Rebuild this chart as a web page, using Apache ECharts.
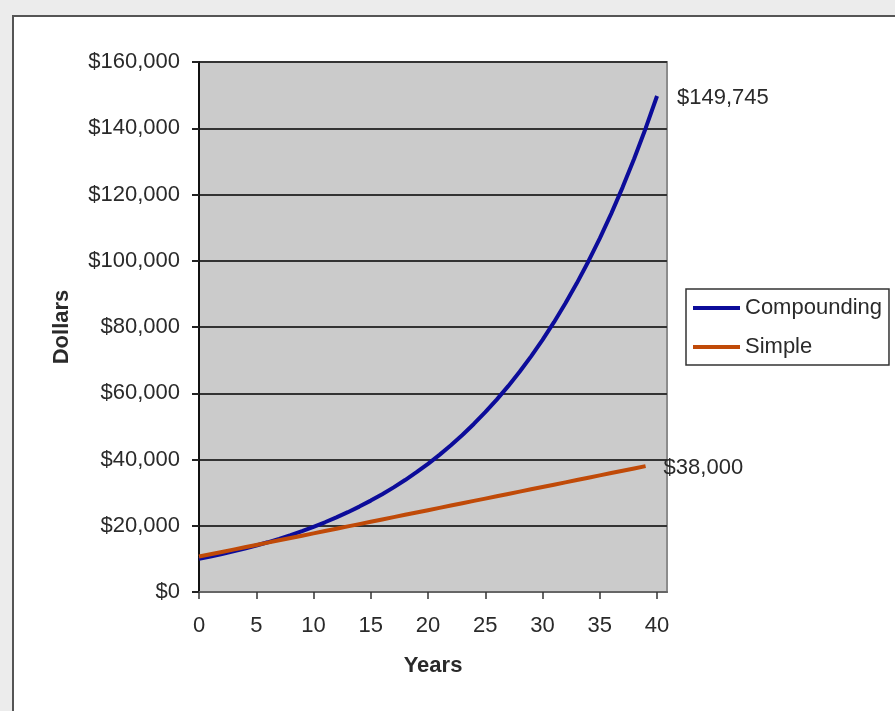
<!DOCTYPE html>
<html>
<head>
<meta charset="utf-8">
<script src="https://cdn.jsdelivr.net/npm/echarts@6/dist/echarts.min.js"></script>
<style>
  html, body { margin: 0; padding: 0; background: #ececec; width: 895px; height: 711px; overflow: hidden; }
  #frame { position: absolute; left: 12px; top: 15px; right: 0; bottom: 0; background: #ffffff;
           border-left: 2px solid #555555; border-top: 2px solid #555555; }
  #chart { position: absolute; left: 0; top: 0; width: 895px; height: 711px; }
</style>
</head>
<body>
<div id="frame"></div>
<div id="chart"></div>
<script>
// Years on the horizontal axis
const years = [0, 1, 2, 3, 4, 5, 6, 7, 8, 9, 10, 11, 12, 13, 14, 15, 16, 17, 18, 19, 20,
               21, 22, 23, 24, 25, 26, 27, 28, 29, 30, 31, 32, 33, 34, 35, 36, 37, 38, 39, 40];

// Balance with interest compounding each year
const compounding = [10000, 10700, 11449, 12250, 13108, 14026, 15007, 16058, 17182, 18385,
                     19672, 21049, 22522, 24098, 25785, 27590, 29522, 31588, 33799, 36165,
                     38697, 41406, 44304, 47405, 50724, 54274, 58074, 62139, 66488, 71143,
                     76123, 81451, 87153, 93253, 99781, 106766, 114239, 122236, 130793, 139948,
                     149745];

// Balance with simple interest only
const simple = [10700, 11400, 12100, 12800, 13500, 14200, 14900, 15600, 16300, 17000,
                17700, 18400, 19100, 19800, 20500, 21200, 21900, 22600, 23300, 24000,
                24700, 25400, 26100, 26800, 27500, 28200, 28900, 29600, 30300, 31000,
                31700, 32400, 33100, 33800, 34500, 35200, 35900, 36600, 37300, 38000];

const xTicks = [0, 5, 10, 15, 20, 25, 30, 35, 40];
const seriesNames = ['Compounding', 'Simple'];

const font = '"Liberation Sans", Arial, sans-serif';
const textColor = '#2a2a2a';

function money(v) {
  return '$' + Math.round(v).toLocaleString('en-US');
}

const chart = echarts.init(document.getElementById('chart'), null, { renderer: 'canvas' });

chart.setOption({
  backgroundColor: 'transparent',
  animation: false,
  textStyle: { fontFamily: font },
  grid: {
    left: 199, top: 62, right: 228, bottom: 119,
    show: true,
    backgroundColor: '#cbcbcb',
    borderColor: '#8c8c8c',
    borderWidth: 2
  },
  legend: {
    data: seriesNames,
    orient: 'vertical',
    left: 686, top: 289,
    padding: [8, 7, 7, 7],
    itemGap: 17,
    icon: 'rect',
    itemWidth: 47,
    itemHeight: 4,
    borderColor: '#333333',
    borderWidth: 1.5,
    borderRadius: 0,
    backgroundColor: '#ffffff',
    textStyle: { fontSize: 22, color: textColor, fontFamily: font }
  },
  xAxis: {
    type: 'value',
    min: 0,
    max: 40.87,
    name: 'Years',
    nameLocation: 'middle',
    nameGap: 63,
    nameTextStyle: { fontSize: 22, fontWeight: 'bold', color: textColor, fontFamily: font },
    axisLine: { show: true, lineStyle: { color: '#666666', width: 2 } },
    axisTick: { show: true, length: 7, customValues: xTicks, lineStyle: { color: '#333333', width: 1.5 } },
    axisLabel: { customValues: xTicks, fontSize: 22, color: textColor, margin: 23, fontFamily: font },
    splitLine: { show: false }
  },
  yAxis: {
    type: 'value',
    min: 0,
    max: 160000,
    interval: 20000,
    name: 'Dollars',
    nameLocation: 'middle',
    nameGap: 126,
    nameRotate: 90,
    nameTextStyle: { fontSize: 22, fontWeight: 'bold', color: textColor, fontFamily: font },
    axisLine: { show: true, lineStyle: { color: '#111111', width: 2 } },
    axisTick: { show: true, length: 7, lineStyle: { color: '#222222', width: 2 } },
    axisLabel: { fontSize: 22, color: textColor, margin: 19, fontFamily: font, formatter: money },
    splitLine: { show: true, lineStyle: { color: '#333333', width: 2 } }
  },
  series: [
    {
      name: seriesNames[0],
      type: 'line',
      data: years.map((y, i) => [y, compounding[i]]),
      symbol: 'none',
      smooth: false,
      color: '#0c0c9a',
      lineStyle: { width: 4, color: '#0c0c9a' },
      endLabel: {
        show: true,
        distance: 20,
        offset: [0, 2],
        fontSize: 22,
        color: textColor,
        fontFamily: font,
        formatter: p => money(p.value[1])
      }
    },
    {
      name: seriesNames[1],
      type: 'line',
      data: simple.map((v, i) => [years[i], v]),
      symbol: 'none',
      smooth: false,
      color: '#c04a08',
      lineStyle: { width: 4, color: '#c04a08' },
      endLabel: {
        show: true,
        distance: 18,
        offset: [0, 2],
        fontSize: 22,
        color: textColor,
        fontFamily: font,
        formatter: p => money(p.value[1])
      }
    }
  ]
});
</script>
</body>
</html>
